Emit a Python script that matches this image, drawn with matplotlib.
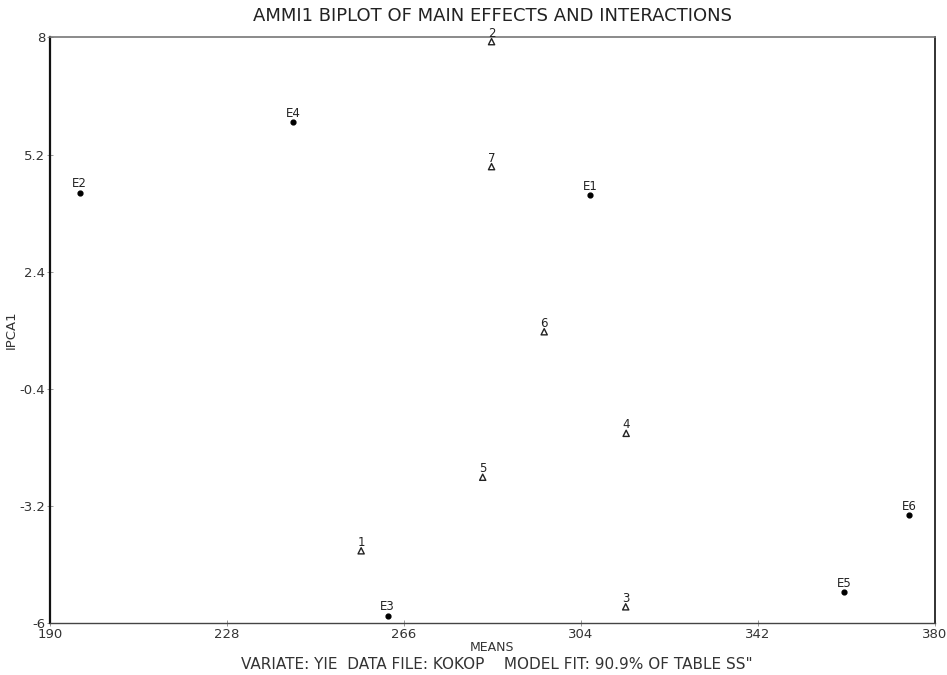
import matplotlib.pyplot as plt

# AMMI1 biplot: genotypes (triangles) and environments (dots)
gen_labels = ["1", "2", "3", "4", "5", "6", "7"]
gen_means = [256.8, 284.8, 313.6, 313.7, 282.9, 296.1, 284.8]
gen_ipca = [-4.28, 7.90, -5.62, -1.47, -2.52, 0.96, 4.91]

env_labels = ["E1", "E2", "E3", "E4", "E5", "E6"]
env_means = [305.9, 196.4, 262.5, 242.2, 360.5, 374.4]
env_ipca = [4.23, 4.29, -5.83, 5.97, -5.26, -3.42]

x_ticks = [190, 228, 266, 304, 342, 380]
y_ticks = [-6, -3.2, -0.4, 2.4, 5.2, 8]

plt.rcParams['font.family'] = ['DejaVu Sans']

fig = plt.figure(figsize=(9.47, 6.75), dpi=100)
ax = fig.add_axes([0.0528, 0.0775, 0.9345, 0.867])

ax.scatter(gen_means, gen_ipca, marker="^", s=20, facecolors="none",
           edgecolors="#222222", linewidths=1.0, zorder=3)
ax.scatter(env_means, env_ipca, marker="o", s=12, color="black", zorder=3)

for lab, x, y in zip(gen_labels, gen_means, gen_ipca):
    ax.annotate(lab, (x, y), xytext=(0, 1.5), textcoords="offset points",
                ha="center", va="bottom", fontsize=8.5, color="#222222")
for lab, x, y in zip(env_labels, env_means, env_ipca):
    ax.annotate(lab, (x, y), xytext=(0, 1.5), textcoords="offset points",
                ha="center", va="bottom", fontsize=8.5, color="#222222")

ax.set_xlim(190, 380)
ax.set_ylim(-6, 8)
ax.set_xticks(x_ticks)
ax.set_xticklabels([str(t) for t in x_ticks])
ax.set_yticks(y_ticks)
ax.set_yticklabels(["-6", "-3.2", "-0.4", "2.4", "5.2", "8"])
ax.tick_params(direction="inout", length=5, width=0.6, color="#888888",
               labelsize=9.5, labelcolor="#333333", pad=1)

ax.spines["left"].set_linewidth(1.6)
ax.spines["left"].set_color("#111111")
ax.spines["right"].set_linewidth(1.3)
ax.spines["right"].set_color("#222222")
ax.spines["bottom"].set_linewidth(1.0)
ax.spines["bottom"].set_color("#444444")
ax.spines["top"].set_linewidth(1.2)
ax.spines["top"].set_color("#777777")

ax.set_title("AMMI1 BIPLOT OF MAIN EFFECTS AND INTERACTIONS", fontsize=13,
             color="#222222", pad=12)
ax.set_ylabel("IPCA1", fontsize=9.5, color="#333333", labelpad=1)
ax.set_xlabel("MEANS", fontsize=9, color="#333333", labelpad=0)
fig.text(0.525, 0.004, 'VARIATE: YIE  DATA FILE: KOKOP    MODEL FIT: 90.9% OF TABLE SS"',
         ha="center", va="bottom", fontsize=11, color="#333333")

fig.savefig("out.png", dpi=100)
